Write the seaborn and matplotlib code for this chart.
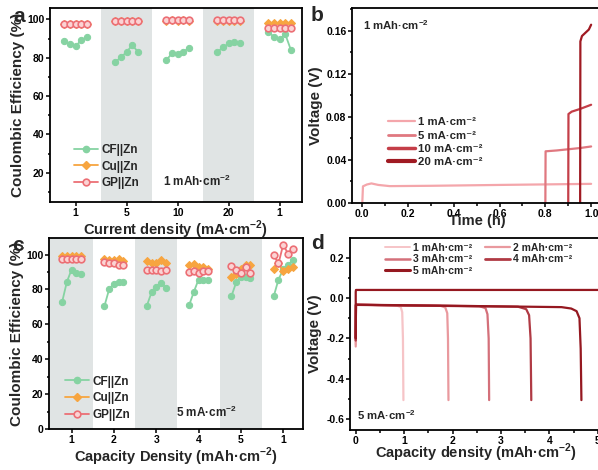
import pandas as pd
import seaborn as sns
import matplotlib.pyplot as plt
from matplotlib.lines import Line2D
from matplotlib.ticker import MultipleLocator, FormatStrFormatter

# -------------------------------------------------------
# data
# -------------------------------------------------------
# (a) CE at 1 mAh cm-2, 5 cycles per current density
a_ticks = ['1', '5', '10', '20', '1']
a_cycle = [1, 2, 3, 4, 5, 10, 11, 12, 13, 14, 19, 20, 21, 22, 23,
           28, 29, 30, 31, 32, 37, 38, 39, 40, 41]
a_cf = [88.7, 87.1, 86.1, 89.2, 90.9, 77.9, 80.2, 83.1, 86.6, 83.1,
        78.8, 82.3, 81.9, 83.1, 85.2, 83.1, 85.4, 87.5, 88.0, 87.8,
        93.5, 90.9, 89.6, 92.2, 84.0]
a_cu = [97.6, 97.7, 97.6, 97.7, 97.6, 99.1, 99.2, 99.1, 99.2, 99.1,
        99.4, 99.5, 99.4, 99.5, 99.4, 99.3, 99.4, 99.3, 99.4, 99.3,
        98.2, 98.2, 98.2, 98.2, 98.2]
a_gp = [97.9, 97.9, 97.9, 97.9, 97.9, 99.3, 99.3, 99.3, 99.3, 99.3,
        99.6, 99.6, 99.6, 99.6, 99.6, 99.5, 99.5, 99.5, 99.5, 99.5,
        95.8, 95.8, 95.8, 95.8, 95.8]

# (c) CE at 5 mA cm-2, 5 cycles per areal capacity
c_ticks = ['1', '2', '3', '4', '5', '1']
c_cycle = [1, 2, 3, 4, 5, 10, 11, 12, 13, 14, 19, 20, 21, 22, 23,
           28, 29, 30, 31, 32, 37, 38, 39, 40, 41, 46, 47, 48, 49, 50]
c_cf = [72.9, 84.3, 91.4, 89.5, 89.1, 70.6, 80.2, 83.4, 84.0, 84.0,
        70.6, 78.3, 81.5, 83.8, 81.1, 71.0, 78.6, 85.7, 85.3, 85.3,
        76.2, 84.0, 86.9, 86.9, 86.6, 76.2, 85.7, 91.5, 93.9, 96.8]
c_cu = [99.2, 99.1, 99.3, 99.2, 99.2, 97.7, 96.8, 97.1, 97.7, 96.3,
        96.2, 95.2, 94.9, 97.1, 95.2, 93.9, 94.5, 92.9, 92.6, 92.0,
        86.9, 89.1, 92.0, 93.9, 93.9, 91.6, 95.0, 90.5, 92.0, 92.6]
c_gp = [97.3, 97.3, 97.3, 97.3, 97.3, 95.8, 95.2, 94.9, 94.3, 93.9,
        91.4, 91.4, 91.0, 90.5, 91.0, 90.1, 90.6, 89.7, 90.5, 90.6,
        93.3, 91.4, 89.5, 92.6, 89.5, 99.6, 94.9, 105.7, 100.6, 103.4]

# (b) voltage-time at 1 mAh cm-2
b_t1 = [0.0, 0.003, 0.02, 0.04, 0.07, 0.12, 0.3, 0.6, 0.8, 1.0]
b_v1 = [0.0, 0.0155, 0.0172, 0.0182, 0.0168, 0.0157, 0.0160, 0.0168, 0.0173, 0.0178]
b_t5 = [0.8, 0.801, 0.85, 0.95, 1.0]
b_v5 = [0.0, 0.048, 0.0488, 0.051, 0.0525]
b_t10 = [0.9, 0.901, 0.915, 0.95, 1.0]
b_v10 = [0.0, 0.0826, 0.0848, 0.0872, 0.0912]
b_t20 = [0.952, 0.953, 0.96, 0.975, 0.99, 1.0]
b_v20 = [0.0, 0.150, 0.155, 0.158, 0.161, 0.1655]

# (d) voltage-capacity at 5 mA cm-2
d_q1 = [0.0, 0.005, 0.3, 0.85, 0.93, 0.96, 0.975, 0.985]
d_v1 = [-0.23, -0.032, -0.034, -0.037, -0.045, -0.07, -0.2, -0.505]
d_q2 = [0.0, 0.005, 0.5, 1.75, 1.85, 1.89, 1.905, 1.915]
d_v2 = [-0.24, -0.032, -0.035, -0.038, -0.047, -0.075, -0.2, -0.505]
d_q3 = [0.0, 0.005, 0.8, 2.55, 2.68, 2.72, 2.745, 2.755]
d_v3 = [-0.21, -0.033, -0.036, -0.040, -0.050, -0.08, -0.2, -0.505]
d_q4 = [0.0, 0.005, 1.0, 3.35, 3.52, 3.58, 3.61, 3.625]
d_v4 = [-0.21, -0.034, -0.037, -0.043, -0.055, -0.085, -0.2, -0.505]
d_q5 = [5.3, 0.005, 0.0, 0.0, 0.005, 1.5, 4.25, 4.45, 4.56, 4.62, 4.645, 4.66]
d_v5 = [0.040, 0.040, 0.030, -0.2, -0.033, -0.037, -0.045, -0.052, -0.065, -0.1, -0.25, -0.505]

# -------------------------------------------------------
sns.set_theme(style='ticks')
plt.rcParams['font.family'] = ['Liberation Sans', 'DejaVu Sans']
plt.rcParams['font.weight'] = 'bold'
plt.rcParams['axes.labelweight'] = 'bold'
plt.rcParams['mathtext.fontset'] = 'custom'
plt.rcParams['mathtext.rm'] = 'Liberation Sans:bold'
plt.rcParams['mathtext.bf'] = 'Liberation Sans:bold'
plt.rcParams['axes.edgecolor'] = 'black'
plt.rcParams['axes.linewidth'] = 1.3

SUP = r'$^{-2}$'
USUP = '⁻²'
GREEN, ORANGE, PINK, PINKF = '#86d3a2', '#f7a540', '#ec6f75', '#fbd3d4'
BAND = '#e0e4e4'

fig = plt.figure(figsize=(5.98, 4.70), dpi=100)
ax_a = fig.add_axes([0.0836, 0.570, 0.421, 0.413])
ax_b = fig.add_axes([0.5886, 0.568, 0.420, 0.415])
ax_c = fig.add_axes([0.0819, 0.0872, 0.4247, 0.4064])
ax_d = fig.add_axes([0.5853, 0.0851, 0.423, 0.4085])


def style_ticks(ax):
    ax.tick_params(which='both', direction='out', colors='black', labelsize=7.5, width=1.1, pad=1.2)
    ax.tick_params(which='major', length=2.8)
    ax.tick_params(which='minor', length=1.8)
    for lab in ax.get_xticklabels() + ax.get_yticklabels():
        lab.set_fontweight('bold')
    for s in ax.spines.values():
        s.set_visible(True)
        s.set_color('black')


def ce_panel(ax, cycles, cf, cu, gp, ticks, bands, xlim, ylim):
    df = pd.DataFrame({'cycle': cycles, 'CF': cf, 'Cu': cu, 'GP': gp})
    df['group'] = (df['cycle'] - 1) // 9
    for g in bands:
        ax.axvspan(9 * g - 1.5, 9 * g + 7.5, color=BAND, lw=0, zorder=0)
    sns.lineplot(data=df, x='cycle', y='CF', units='group', estimator=None, ax=ax,
                 color=GREEN, marker='o', markersize=4.5, mec=GREEN, mfc=GREEN, lw=1.3)
    sns.lineplot(data=df, x='cycle', y='Cu', units='group', estimator=None, ax=ax,
                 color=ORANGE, marker='D', markersize=4, mec=ORANGE, mfc=ORANGE, lw=1.3)
    sns.lineplot(data=df, x='cycle', y='GP', units='group', estimator=None, ax=ax,
                 color=PINK, marker='o', markersize=4.8, mec=PINK, mfc=PINKF, mew=1.2, lw=1.3)
    ax.set_xticks([9 * i + 3 for i in range(len(ticks))])
    ax.set_xticklabels(ticks)
    ax.set_xlim(*xlim)
    ax.set_ylim(*ylim)
    ax.yaxis.set_major_locator(MultipleLocator(20))
    ax.yaxis.set_minor_locator(MultipleLocator(10))
    ax.set_ylabel('Coulombic Efficiency (%)', fontsize=11)
    handles = [Line2D([], [], color=GREEN, marker='o', ms=4.5, lw=1.3),
               Line2D([], [], color=ORANGE, marker='D', ms=4, lw=1.3),
               Line2D([], [], color=PINK, marker='o', ms=4.8, mfc=PINKF, mew=1.2, lw=1.3)]
    return handles


# (a)
h = ce_panel(ax_a, a_cycle, a_cf, a_cu, a_gp, a_ticks, [1, 3], (-1.53, 42.9), (4.7, 106))
ax_a.set_xlabel('Current density (mA·cm' + SUP + ')', fontsize=10.5)
ax_a.legend(h, ['CF||Zn', 'Cu||Zn', 'GP||Zn'], loc='upper left', bbox_to_anchor=(0.095, 0.30),
            frameon=False, fontsize=8.5, handlelength=2.0, handletextpad=0.3,
            labelspacing=0.4, borderpad=0, borderaxespad=0)
ax_a.text(0.583, 0.108, '1 mAh·cm' + SUP, transform=ax_a.transAxes, ha='center', va='center', fontsize=8.5)
style_ticks(ax_a)

# (c)
h = ce_panel(ax_c, c_cycle, c_cf, c_cu, c_gp, c_ticks, [0, 2, 4], (-1.8, 52.2), (0, 109.5))
ax_c.set_xlabel('Capacity Density (mAh·cm' + SUP + ')', fontsize=10.5)
ax_c.legend(h, ['CF||Zn', 'Cu||Zn', 'GP||Zn'], loc='upper left', bbox_to_anchor=(0.063, 0.28),
            frameon=False, fontsize=8.5, handlelength=2.0, handletextpad=0.3,
            labelspacing=0.4, borderpad=0, borderaxespad=0)
ax_c.text(0.618, 0.089, '5 mA·cm' + SUP, transform=ax_c.transAxes, ha='center', va='center', fontsize=8.5)
style_ticks(ax_c)

# (b)
b_labels = ['1 mA·cm' + USUP, '5 mA·cm' + USUP, '10 mA·cm' + USUP, '20 mA·cm' + USUP]
b_colors = ['#f4a6ab', '#e07880', '#c43e48', '#a01a22']
df_b = pd.concat([pd.DataFrame({'t': t, 'v': v, 'rate': lab})
                  for t, v, lab in zip([b_t1, b_t5, b_t10, b_t20], [b_v1, b_v5, b_v10, b_v20], b_labels)])
sns.lineplot(data=df_b, x='t', y='v', hue='rate', palette=dict(zip(b_labels, b_colors)),
             sort=False, estimator=None, lw=1.6, ax=ax_b, legend=False)
ax_b.set_xlim(-0.045, 1.0525)
ax_b.set_ylim(0, 0.181)
ax_b.xaxis.set_major_locator(MultipleLocator(0.2))
ax_b.xaxis.set_minor_locator(MultipleLocator(0.1))
ax_b.yaxis.set_major_locator(MultipleLocator(0.04))
ax_b.yaxis.set_minor_locator(MultipleLocator(0.02))
ax_b.xaxis.set_major_formatter(FormatStrFormatter('%.1f'))
ax_b.yaxis.set_major_formatter(FormatStrFormatter('%.2f'))
ax_b.set_xlabel('Time (h)', fontsize=10.5)
ax_b.set_ylabel('Voltage (V)', fontsize=11)
hb = [Line2D([], [], color=c, lw=w) for c, w in zip(b_colors, [1.6, 2.0, 2.5, 3.0])]
ax_b.legend(hb, b_labels, loc='upper left', bbox_to_anchor=(0.143, 0.44), frameon=False,
            fontsize=8.2, handlelength=2.4, handletextpad=0.2, labelspacing=0.3,
            borderpad=0, borderaxespad=0)
ax_b.text(0.044, 0.913, '1 mAh·cm' + SUP, transform=ax_b.transAxes, ha='left', va='center', fontsize=8.2)
style_ticks(ax_b)

# (d)
d_labels = ['%d mAh·cm' % i + USUP for i in range(1, 6)]
d_colors = ['#f6c4c7', '#e9999e', '#d4707a', '#b03a44', '#951820']
df_d = pd.concat([pd.DataFrame({'q': q, 'v': v, 'cap': lab})
                  for q, v, lab in zip([d_q1, d_q2, d_q3, d_q4, d_q5],
                                       [d_v1, d_v2, d_v3, d_v4, d_v5], d_labels)])
sns.lineplot(data=df_d, x='q', y='v', hue='cap', palette=dict(zip(d_labels, d_colors)),
             sort=False, estimator=None, lw=1.6, ax=ax_d, legend=False)
ax_d.set_xlim(-0.118, 5.105)
ax_d.set_ylim(-0.653, 0.297)
ax_d.xaxis.set_major_locator(MultipleLocator(1))
ax_d.xaxis.set_minor_locator(MultipleLocator(0.5))
ax_d.yaxis.set_major_locator(MultipleLocator(0.2))
ax_d.yaxis.set_minor_locator(MultipleLocator(0.1))
ax_d.yaxis.set_major_formatter(FormatStrFormatter('%.1f'))
ax_d.set_xlabel('Capacity density (mAh·cm' + SUP + ')', fontsize=10.5)
ax_d.set_ylabel('Voltage (V)', fontsize=11)
hd = [Line2D([], [], color=c, lw=w) for c, w in zip(d_colors, [1.4, 1.6, 1.8, 2.0, 2.2])]
order = [0, 2, 4, 1, 3]
ax_d.legend([hd[i] for i in order], [d_labels[i] for i in order], ncol=2, loc='upper left',
            bbox_to_anchor=(0.138, 0.975), frameon=False, fontsize=7.5, handlelength=2.4,
            handletextpad=0.3, labelspacing=0.15, columnspacing=1.2, borderpad=0, borderaxespad=0)
ax_d.text(0.028, 0.078, '5 mA·cm' + SUP, transform=ax_d.transAxes, ha='left', va='center', fontsize=8.2)
style_ticks(ax_d)

# label positions
ax_a.yaxis.set_label_coords(-0.10, 0.5)
ax_c.yaxis.set_label_coords(-0.10, 0.5)
ax_b.yaxis.set_label_coords(-0.115, 0.5)
ax_d.yaxis.set_label_coords(-0.11, 0.5)
ax_a.xaxis.set_label_coords(0.5, -0.085)
ax_c.xaxis.set_label_coords(0.5, -0.085)
ax_b.xaxis.set_label_coords(0.5, -0.058)
ax_d.xaxis.set_label_coords(0.5, -0.06)

for lab, x, y in [('a', 19, 16), ('b', 317, 15.5), ('c', 18, 245), ('d', 317, 243.5)]:
    fig.text(x / 598, 1 - y / 470, lab, ha='center', va='center', fontsize=15, fontweight='bold')

fig.savefig('out.png', dpi=100)
